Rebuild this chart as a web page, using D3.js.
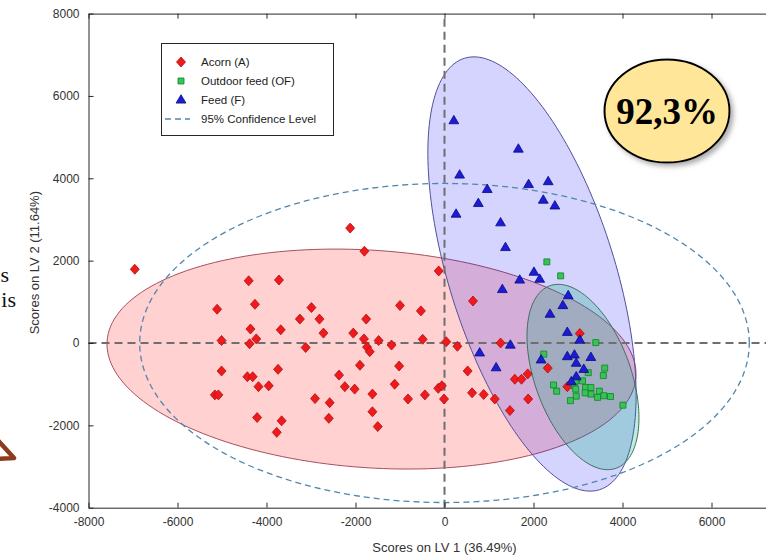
<!DOCTYPE html>
<html>
<head>
<meta charset="utf-8">
<script src="https://cdn.jsdelivr.net/npm/d3@7"></script>
<style>
  html, body { margin: 0; padding: 0; background: #fff; overflow: hidden; }
  svg { display: block; }
</style>
</head>
<body>
<svg id="chart" width="766" height="559"></svg>
<script>
// --- data (scores on LV1 / LV2) ---
const acorn = [
  [-6960, 1790], [-4400, 1510], [-3720, 1530], [-4260, 940], [-5110, 820], [-2990, 860],
  [-3250, 580], [-2810, 580], [-4360, 340], [-3680, 320], [-5010, 60], [-4380, -20],
  [-4230, 100], [-3120, -110], [-5010, -680], [-3740, -640], [-4430, -820], [-4310, -820],
  [-4180, -1060], [-3950, -1040], [-2910, -1350], [-5160, -1260], [-5080, -1260], [-4210, -1810],
  [-3660, -1890], [-3770, -2170], [-2120, 2790], [-1800, 2230], [-130, 1750], [640, 1020],
  [-1000, 910], [-530, 780], [-1760, 580], [-2720, 240], [-2050, 240], [-1810, 100],
  [-1740, -100], [-1680, -210], [-1480, 60], [-1190, -50], [-490, 90], [40, 30],
  [290, -80], [1260, 0], [-1900, -540], [-1020, -560], [520, -680], [-2370, -780],
  [-2240, -1060], [-2020, -1120], [-1120, -1000], [-1620, -1240], [-820, -1360], [-440, -1260],
  [-140, -1100], [-60, -1040], [-10, -1360], [-2580, -1450], [-2600, -1830], [-1620, -1670],
  [-1500, -2030], [620, -1210], [880, -1250], [1130, -1360], [1470, -1640], [1580, -880],
  [1730, -880], [1870, -750], [1880, -1360], [3040, 230], [2320, -610], [2760, -1060]
];
const outdoorFeed = [
  [2300, 1970], [2610, 1630], [3400, 10], [2230, -270], [3600, -610], [3570, -790],
  [3230, -720], [2450, -1020], [2520, -1170], [2920, -1040], [3100, -920], [2950, -1120],
  [3170, -1080], [3290, -1080], [3290, -1240], [3480, -1170], [3580, -1280], [3730, -1300],
  [3440, -1320], [2960, -1290], [2830, -1400], [3160, -1210], [4010, -1510], [2940, -920]
];
const feed = [
  [210, 5400], [1660, 4710], [340, 4080], [960, 3730], [760, 3390], [1890, 3850],
  [2330, 3920], [2220, 3470], [2480, 3330], [260, 3130], [1260, 2920], [1370, 2320],
  [2010, 1720], [2140, 1550], [1690, 1530], [1300, 1300], [2780, 1150], [2660, 910],
  [2370, 700], [2760, 260], [3040, 70], [1480, -50], [790, -240], [1160, -600],
  [2760, -330], [2920, -290], [3290, -350], [2170, -410], [2960, -490], [3130, -640],
  [2960, -820], [2850, -940]
];

// class ellipses: centre, then the two half-axis vectors [cx, cy, ux, uy, vx, vy]
const acornEllipse = [-1640, -390, 5942, -437, -166, -2635];
const feedEllipse = [1966, 1676, 1519, -5239, -1780, -602];
const outdoorEllipse = [3112, -826, 746, -2215, -1013, -398];
const confidenceEllipse = [0, 0, 6850, 0, 0, 3875];

const xTicks = [-8000, -6000, -4000, -2000, 0, 2000, 4000, 6000];
const yTicks = [-4000, -2000, 0, 2000, 4000, 6000, 8000];
const legendLabels = ["Acorn (A)", "Outdoor feed (OF)", "Feed (F)", "95% Confidence Level"];

const svg = d3.select("#chart");
const font = "'Liberation Sans', Arial, Helvetica, sans-serif";

const x = d3.scaleLinear().domain([-8000, 8000]).range([88.5, 800.5]);
const y = d3.scaleLinear().domain([-4000, 8000]).range([507.7, 13.6]);

// shadow for the badge
const defs = svg.append("defs");
defs.append("filter").attr("id", "shadow")
  .attr("x", "-20%").attr("y", "-20%").attr("width", "150%").attr("height", "150%")
  .append("feDropShadow")
  .attr("dx", 3).attr("dy", 3).attr("stdDeviation", 2.5)
  .attr("flood-color", "#777").attr("flood-opacity", 0.6);

function ellipsePath(e) {
  const pts = d3.range(0, 360, 2).map(a => {
    const t = a * Math.PI / 180;
    return [e[0] + e[2] * Math.cos(t) + e[4] * Math.sin(t),
            e[1] + e[3] * Math.cos(t) + e[5] * Math.sin(t)];
  });
  return d3.line().x(d => x(d[0])).y(d => y(d[1])).curve(d3.curveLinearClosed)(pts);
}

// filled class ellipses
const plot = svg.append("g");
plot.append("path").attr("d", ellipsePath(acornEllipse))
  .attr("fill", "rgba(255,0,0,0.18)").attr("stroke", "#a8505c").attr("stroke-width", 1);
plot.append("path").attr("d", ellipsePath(feedEllipse))
  .attr("fill", "rgba(0,0,255,0.17)").attr("stroke", "#50509a").attr("stroke-width", 1);
plot.append("path").attr("d", ellipsePath(outdoorEllipse))
  .attr("fill", "rgba(0,170,120,0.24)").attr("stroke", "#3f6e5c").attr("stroke-width", 1);

// zero lines
plot.append("line")
  .attr("x1", x(-8000)).attr("x2", 766).attr("y1", y(0)).attr("y2", y(0))
  .attr("stroke", "#6e6e6e").attr("stroke-width", 2).attr("stroke-dasharray", "8,5");
plot.append("line")
  .attr("x1", x(0)).attr("x2", x(0)).attr("y1", y(-4000)).attr("y2", y(8000))
  .attr("stroke", "#6e6e6e").attr("stroke-width", 2).attr("stroke-dasharray", "8,5");

// 95% confidence ellipse
plot.append("path").attr("d", ellipsePath(confidenceEllipse))
  .attr("fill", "none").attr("stroke", "#4f86ad").attr("stroke-width", 1.3)
  .attr("stroke-dasharray", "6,4");

// markers
const diamond = "M0,-5L4.5,0L0,5L-4.5,0Z";
const square = "M-3,-3H3V3H-3Z";
const triangle = "M0,-5.3L4.9,3.1L-4.9,3.1Z";

plot.append("g").selectAll("path").data(acorn).join("path")
  .attr("d", diamond)
  .attr("transform", d => `translate(${x(d[0])},${y(d[1])})`)
  .attr("fill", "#f0191c").attr("stroke", "#b01010").attr("stroke-width", 0.8);
plot.append("g").selectAll("path").data(outdoorFeed).join("path")
  .attr("d", square)
  .attr("transform", d => `translate(${x(d[0])},${y(d[1])})`)
  .attr("fill", "#38c455").attr("stroke", "#10802a").attr("stroke-width", 0.8);
plot.append("g").selectAll("path").data(feed).join("path")
  .attr("d", triangle)
  .attr("transform", d => `translate(${x(d[0])},${y(d[1])})`)
  .attr("fill", "#1c1cd6").attr("stroke", "#0a0a80").attr("stroke-width", 0.8);

// axes (MATLAB style, ticks inward)
function styleAxis(g) {
  g.select(".domain").attr("stroke", "#262626");
  g.selectAll(".tick line").attr("stroke", "#262626");
  g.selectAll(".tick text").attr("fill", "#333").attr("font-family", font).attr("font-size", 12);
}
svg.append("g").attr("transform", `translate(0,${y(-4000)})`)
  .call(d3.axisBottom(x).tickValues(xTicks).tickFormat(d => String(d))
    .tickSizeInner(-5).tickSizeOuter(0).tickPadding(10))
  .call(styleAxis);
svg.append("g").attr("transform", `translate(${x(-8000)},0)`)
  .call(d3.axisLeft(y).tickValues(yTicks).tickFormat(d => String(d))
    .tickSizeInner(-5).tickSizeOuter(0).tickPadding(9))
  .call(styleAxis);
svg.append("g").attr("transform", `translate(0,${y(8000)})`)
  .call(d3.axisTop(x).tickValues(xTicks).tickFormat("").tickSizeInner(-5).tickSizeOuter(0))
  .call(styleAxis);

svg.append("text")
  .attr("x", x(0)).attr("y", 552)
  .attr("text-anchor", "middle")
  .attr("font-family", font).attr("font-size", 13).attr("fill", "#333")
  .text("Scores on LV 1 (36.49%)");
svg.append("text")
  .attr("transform", `translate(39,${y(2000) + 2}) rotate(-90)`)
  .attr("text-anchor", "middle")
  .attr("font-family", font).attr("font-size", 13).attr("fill", "#333")
  .text("Scores on LV 2 (11.64%)");

// legend
const legend = svg.append("g");
legend.append("rect")
  .attr("x", 161.5).attr("y", 43.5).attr("width", 172).attr("height", 92)
  .attr("fill", "#fff").attr("stroke", "#262626").attr("stroke-width", 1);
const rowY = [62, 81, 100, 119];
const legendMarks = [diamond, square, triangle];
const legendFill = ["#f0191c", "#38c455", "#1c1cd6"];
const legendStroke = ["#b01010", "#10802a", "#0a0a80"];
legendLabels.forEach((label, i) => {
  if (i < 3) {
    legend.append("path").attr("d", legendMarks[i])
      .attr("transform", `translate(181,${rowY[i]})`)
      .attr("fill", legendFill[i]).attr("stroke", legendStroke[i]).attr("stroke-width", 0.8);
  } else {
    legend.append("line")
      .attr("x1", 165).attr("x2", 190).attr("y1", rowY[i]).attr("y2", rowY[i])
      .attr("stroke", "#4f86ad").attr("stroke-width", 1.3).attr("stroke-dasharray", "6,4");
  }
  legend.append("text")
    .attr("x", 201).attr("y", rowY[i] + 4)
    .attr("font-family", font).attr("font-size", 11.5).attr("fill", "#222")
    .text(label);
});

// badge
const badge = svg.append("g");
badge.append("ellipse")
  .attr("cx", 667).attr("cy", 111).attr("rx", 62.5).attr("ry", 51.5)
  .attr("fill", "#ffe699").attr("stroke", "#000").attr("stroke-width", 2)
  .attr("filter", "url(#shadow)");
badge.append("text")
  .attr("x", 667).attr("y", 124)
  .attr("text-anchor", "middle")
  .attr("font-family", "'Liberation Serif', 'Times New Roman', serif")
  .attr("font-weight", "bold").attr("font-size", 37).attr("fill", "#000")
  .text("92,3%");

// fragments of the surrounding slide at the left edge
const serif = "'Liberation Serif', 'Times New Roman', serif";
svg.append("text").attr("x", 9).attr("y", 282).attr("text-anchor", "end")
  .attr("font-family", serif).attr("font-size", 22).attr("fill", "#111").text("s");
svg.append("text").attr("x", 16).attr("y", 307).attr("text-anchor", "end")
  .attr("font-family", serif).attr("font-size", 22).attr("fill", "#111").text("is");
svg.append("path")
  .attr("d", "M-25,415L14,458L-40,461")
  .attr("fill", "none").attr("stroke", "#8c3b1e").attr("stroke-width", 4.5)
  .attr("stroke-linejoin", "round");
</script>
</body>
</html>
